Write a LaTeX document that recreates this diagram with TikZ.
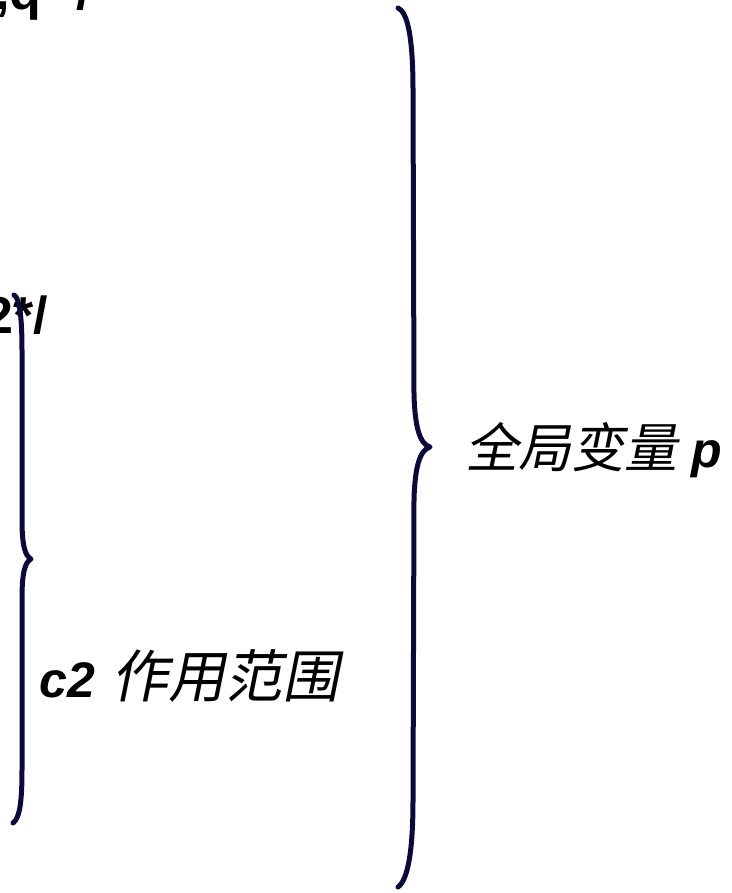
\documentclass[tikz,border=0pt]{standalone}
\usepackage{fontspec}
\setmainfont{Liberation Sans}
\newfontfamily\cjkit[FakeSlant=0.2]{Noto Sans CJK SC}
\definecolor{bracecol}{RGB}{10,10,60}
\tikzset{
  bracepath/.style={draw=bracecol, line width=5pt, line cap=round, line join=round},
  codetxt/.style={inner sep=0pt, font=\fontsize{52}{60}\selectfont\bfseries},
  labeltxt/.style={inner sep=0pt, font=\fontsize{50}{60}\selectfont\bfseries\itshape}
}
\begin{document}
\begin{tikzpicture}[x=1pt,y=-1pt]
\useasboundingbox (0,0) rectangle (731,893);
\clip (0,0) rectangle (731,893);
% code fragments (cut by the frame)
\node[codetxt, anchor=base east] (code1) at (91,10) {,q */};
\node[codetxt, anchor=base east] (code2) at (48,333) {2*/};
% large brace
\draw[bracepath] (398,8) .. controls (408,12) and (413,40) .. (413,90)
  -- (414,395) .. controls (415,428) and (420,444) .. (430,447)
  .. controls (420,450) and (415,466) .. (414,499)
  -- (413,800) .. controls (413,850) and (408,880) .. (398,887);
% small brace
\draw[bracepath] (14,295) .. controls (20,298) and (22,320) .. (22,350)
  -- (22,520) .. controls (22,545) and (25,556) .. (31,559)
  .. controls (25,562) and (22,573) .. (22,598)
  -- (22,770) .. controls (22,800) and (20,818) .. (13,823);
% labels
\node[labeltxt, anchor=base west] (glob) at (465,467) {{\normalfont\fontsize{53}{60}\selectfont\cjkit 全局变量}\ p};
\node[labeltxt, anchor=base west] (scope) at (39,697) {c2\ \hspace{3pt}{\normalfont\fontsize{57}{60}\selectfont\cjkit 作用范围}};
\end{tikzpicture}
\end{document}
